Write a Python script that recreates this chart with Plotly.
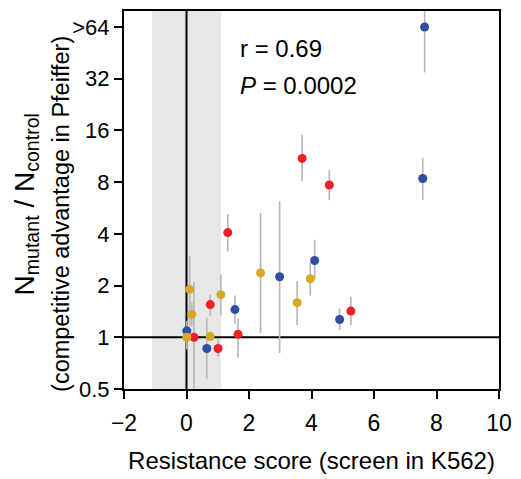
import plotly.graph_objects as go
import math

# ---- data (x = resistance score, y = Nmutant/Ncontrol, lo/hi = error range) ----
red_x  = [0.24, 0.76, 1.01, 1.32, 1.65, 3.70, 4.57, 5.26]
red_y  = [1.00, 1.55, 0.86, 4.07, 1.04, 11.0, 7.70, 1.42]
red_lo = [0.45, 1.33, 0.77, 3.16, 0.76, 8.10, 6.28, 1.18]
red_hi = [2.10, 1.77, 0.97, 5.20, 1.28, 15.1, 9.40, 1.72]

blue_x  = [0.01, 0.65, 1.55, 2.98, 4.10, 4.90, 7.56, 7.62]
blue_y  = [1.09, 0.86, 1.45, 2.25, 2.80, 1.27, 8.40, 64.0]
blue_lo = [0.85, 0.57, 1.20, 0.81, 2.17, 1.10, 6.30, 34.8]
blue_hi = [1.25, 1.30, 1.75, 6.20, 3.69, 1.47, 11.1, 120.0]

yel_x  = [0.01, 0.10, 0.17, 0.76, 1.10, 2.37, 3.54, 3.96]
yel_y  = [1.00, 1.90, 1.36, 1.01, 1.77, 2.37, 1.59, 2.19]
yel_lo = [0.93, 1.16, 1.16, 0.95, 1.34, 1.06, 1.18, 1.75]
yel_hi = [1.07, 2.98, 1.60, 1.08, 2.32, 5.27, 2.12, 2.72]

y_tickvals = [0.5, 1, 2, 4, 8, 16, 32, 64]
y_ticktext = ["0.5", "1", "2", "4", "8", "16", "32", "&gt;64"]
x_tickvals = [-2, 0, 2, 4, 6, 8, 10]
x_ticktext = ["\u22122", "0", "2", "4", "6", "8", "10"]

RED = "#ee1f26"
BLUE = "#2f4ea3"
YEL = "#d7a823"
GRAY = "#b5b5b5"
FONT = "Liberation Sans, Arial, sans-serif"

groups = [(red_x, red_y, red_lo, red_hi, RED),
          (blue_x, blue_y, blue_lo, blue_hi, BLUE),
          (yel_x, yel_y, yel_lo, yel_hi, YEL)]

fig = go.Figure()
# error bars first (under all markers)
for gx, gy, glo, ghi, c in groups:
    fig.add_trace(go.Scatter(
        x=gx, y=gy, mode="markers",
        marker=dict(size=1, color="rgba(0,0,0,0)"),
        error_y=dict(type="data", symmetric=False,
                     array=[h - v for h, v in zip(ghi, gy)],
                     arrayminus=[v - l for v, l in zip(gy, glo)],
                     color=GRAY, thickness=1.6, width=0),
        hoverinfo="skip", showlegend=False))
for gx, gy, glo, ghi, c in groups:
    fig.add_trace(go.Scatter(
        x=gx, y=gy, mode="markers",
        marker=dict(size=9, color=c, line=dict(width=0)),
        showlegend=False, cliponaxis=False))

ylo, yhi = math.log10(0.5), math.log10(79.3)

fig.update_layout(
    width=521, height=479,
    margin=dict(l=124, r=16, t=9, b=90),
    paper_bgcolor="white", plot_bgcolor="white",
    font=dict(family=FONT, color="black", size=21),
    shapes=[
        dict(type="rect", xref="x", yref="paper", x0=-1.1, x1=1.1, y0=0, y1=1,
             fillcolor="#e6e7e8", line=dict(width=0), layer="below"),
        dict(type="line", xref="x", yref="paper", x0=0, x1=0, y0=0, y1=1,
             line=dict(color="black", width=2), layer="below"),
        dict(type="line", xref="paper", yref="y", x0=0, x1=1, y0=1, y1=1,
             line=dict(color="black", width=2), layer="below"),
    ],
    xaxis=dict(range=[-2, 10], tickvals=x_tickvals, ticktext=x_ticktext,
               showline=True, linecolor="black", linewidth=2, mirror=True,
               ticks="outside", ticklen=8, tickwidth=2, tickcolor="black",
               showgrid=False, zeroline=False, ticklabelstandoff=4,
               tickfont=dict(size=23, family=FONT),
               title=dict(text="Resistance score (screen in K562)",
                          font=dict(size=24, family=FONT), standoff=18)),
    yaxis=dict(type="log", range=[ylo, yhi], tickvals=y_tickvals,
               ticktext=y_ticktext,
               showline=True, linecolor="black", linewidth=2, mirror=True,
               ticks="outside", ticklen=8, tickwidth=2, tickcolor="black",
               showgrid=False, zeroline=False,
               tickfont=dict(size=22, family=FONT)),
    annotations=[
        dict(text="r = 0.69", xref="x", yref="paper", x=1.65, y=(389 - 47) / 380,
             xanchor="left", yanchor="middle", showarrow=False,
             font=dict(size=24, family=FONT)),
        dict(text="<i>P</i> = 0.0002", xref="x", yref="paper", x=1.65, y=(389 - 84) / 380,
             xanchor="left", yanchor="middle", showarrow=False,
             font=dict(size=24, family=FONT)),
        dict(text="N<sub>mutant</sub> / N<sub>control</sub>", textangle=-90,
             xref="paper", yref="paper", x=(25 - 124) / 381, y=(389 - 203) / 380,
             xanchor="center", yanchor="middle", showarrow=False,
             font=dict(size=28, family=FONT)),
        dict(text="(competitive advantage in Pfeiffer)", textangle=-90,
             xref="paper", yref="paper", x=(60 - 124) / 381, y=(389 - 213) / 380,
             xanchor="center", yanchor="middle", showarrow=False,
             font=dict(size=23.5, family=FONT)),
    ],
)

fig.write_html("out.html")
